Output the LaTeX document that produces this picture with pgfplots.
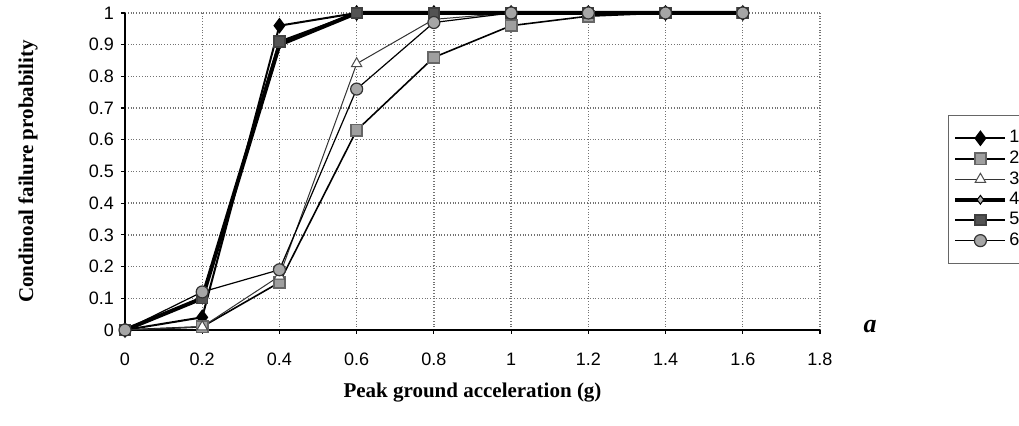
\documentclass[border=0pt]{standalone}
\usepackage{fontspec}
\setmainfont{Liberation Sans}
\newfontfamily\timesf{Liberation Serif}
\usepackage{pgfplots}
\pgfplotsset{compat=1.18}
\begin{document}
\begin{tikzpicture}
\path[use as bounding box] (-62.5pt,-48pt) rectangle (447pt,165pt);
\begin{axis}[
  scale only axis, width=347.5pt, height=158.5pt,
  anchor=south west, at={(0,0)},
  xmin=0, xmax=1.8, ymin=0, ymax=1,
  xtick={0,0.2,...,1.8}, ytick={0,0.1,...,1.0},
  xticklabels={0,0.2,0.4,0.6,0.8,1,1.2,1.4,1.6,1.8},
  yticklabels={0,0.1,0.2,0.3,0.4,0.5,0.6,0.7,0.8,0.9,1},
  axis x line=bottom, axis y line=left,
  axis line style={-, black, line width=0.9pt},
  tick align=outside, major tick length=2pt, tick style={black, line width=0.6pt},
  grid=major,
  major grid style={black!55, densely dotted, line width=0.7pt},
  tick label style={font=\fontsize{9}{11}\selectfont},
  /pgf/number format/assume math mode=true,
  x tick label style={yshift=-6pt},
  xlabel={\timesf\bfseries Peak ground acceleration (g)},
  ylabel={\timesf\bfseries Condinoal failure probability},
  label style={font=\fontsize{10.5}{12}\selectfont},
  xlabel style={at={(axis description cs:0.5,-0.196)}, anchor=center},
  ylabel style={at={(axis description cs:-0.1396,0.5)}, anchor=center, rotate=0},
  legend style={at={(1.184,0.678)}, anchor=north west, draw=black!60, line width=0.5pt,
    font=\fontsize{9}{11}\selectfont, nodes={inner sep=1pt}, row sep=0.5pt,
    inner xsep=2.5pt, inner ysep=6.5pt},
  legend cell align=left,
  legend image code/.code={%
    \draw[mark repeat=2, mark phase=2] plot coordinates {(0cm,0cm)(0.44cm,0cm)(0.88cm,0cm)};},
  clip=false,
]
\addplot[black, line width=1pt, mark=diamond*, mark size=3.2pt, mark options={fill=black, solid}]
 coordinates {(0,0)(0.2,0.04)(0.4,0.96)(0.6,1)(0.8,1)(1,1)(1.2,1)(1.4,1)(1.6,1)};
\addlegendentry{1}
\addplot[black, line width=0.8pt, mark=square*, mark size=2.8pt, mark options={fill=gray!75, draw=gray!80!black, solid}]
 coordinates {(0,0)(0.2,0.01)(0.4,0.15)(0.6,0.63)(0.8,0.86)(1,0.96)(1.2,0.99)(1.4,1)(1.6,1)};
\addlegendentry{2}
\addplot[black!80, line width=0.5pt, mark=triangle*, mark size=3pt, mark options={fill=white, draw=black!70, solid}]
 coordinates {(0,0)(0.2,0.01)(0.4,0.17)(0.6,0.84)(0.8,0.98)(1,1)(1.2,1)(1.4,1)(1.6,1)};
\addlegendentry{3}
\addplot[black, line width=2pt, mark=diamond*, mark size=2.2pt, mark options={fill=gray!60, draw=black, line width=0.5pt, solid}]
 coordinates {(0,0)(0.2,0.1)(0.4,0.90)(0.6,1)(0.8,1)(1,1)(1.2,1)(1.4,1)(1.6,1)};
\addlegendentry{4}
\addplot[black, line width=0.9pt, mark=square*, mark size=2.6pt, mark options={fill=gray!65!black, draw=gray!50!black, solid}]
 coordinates {(0,0)(0.2,0.1)(0.4,0.91)(0.6,1)(0.8,1)(1,1)(1.2,1)(1.4,1)(1.6,1)};
\addlegendentry{5}
\addplot[black, line width=0.6pt, mark=*, mark size=3pt, mark options={fill=gray!70, draw=black!80, solid}]
 coordinates {(0,0)(0.2,0.12)(0.4,0.19)(0.6,0.76)(0.8,0.97)(1,1)(1.2,1)(1.4,1)(1.6,1)};
\addlegendentry{6}
\node[font=\timesf\bfseries\itshape\fontsize{13}{15}\selectfont] at (rel axis cs:1.072,0.01) {a};
\end{axis}
\end{tikzpicture}
\end{document}
